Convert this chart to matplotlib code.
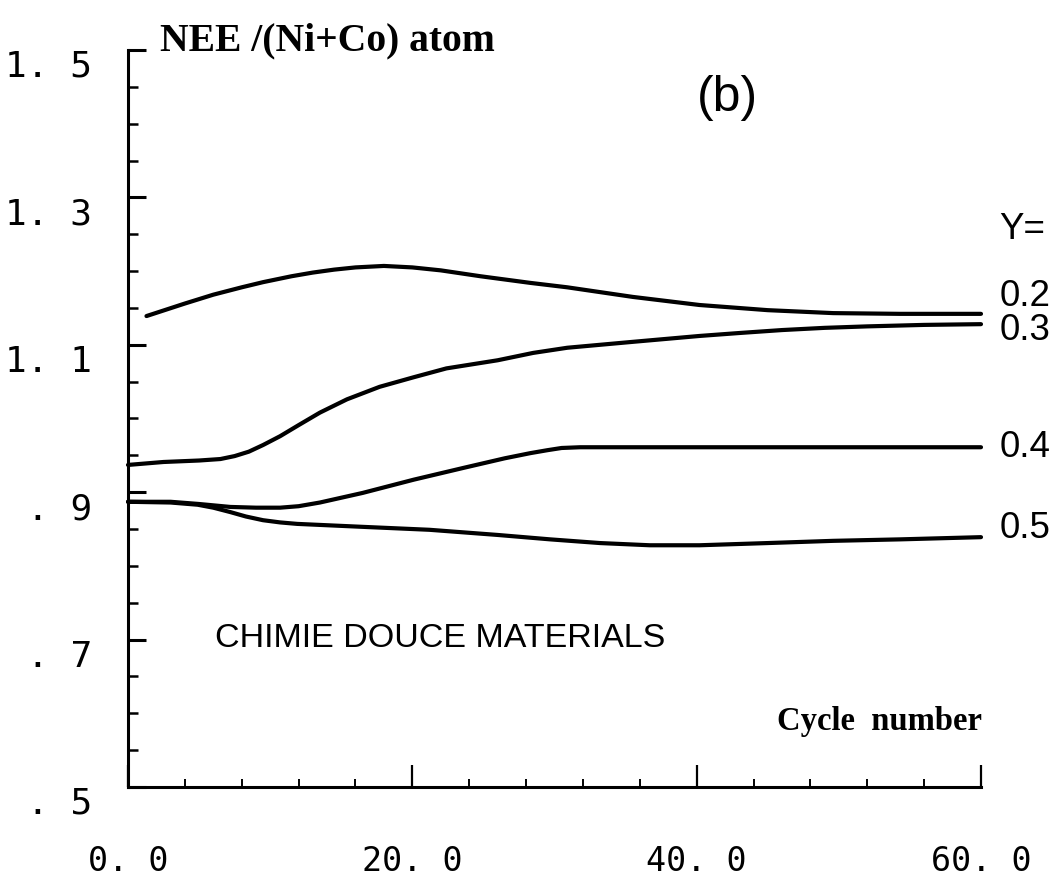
import matplotlib
matplotlib.use("Agg")
import matplotlib.pyplot as plt
from matplotlib.ticker import FixedLocator, MultipleLocator

# NEE per (Ni+Co) atom versus cycle number for several Y compositions
cycles_y02 = [1.3, 4.0, 6.0, 8.0, 9.5, 11.5, 13.0, 14.5, 16.0, 18.0, 20.0, 22.0,
              24.8, 28.3, 30.9, 35.5, 40.2, 45.0, 49.6, 54.3, 60.0]
nee_y02 = [1.139, 1.156, 1.168, 1.178, 1.185, 1.193, 1.198, 1.202, 1.205, 1.207,
           1.205, 1.201, 1.193, 1.184, 1.178, 1.165, 1.154, 1.147, 1.143, 1.142,
           1.142]

cycles_y03 = [0.0, 2.5, 5.0, 6.5, 7.5, 8.5, 9.5, 10.7, 12.0, 13.5, 15.4, 17.7,
              20.1, 22.4, 26.0, 28.5, 30.9, 35.5, 40.2, 43.0, 46.0, 49.0, 52.0,
              56.0, 60.0]
nee_y03 = [0.937, 0.941, 0.943, 0.945, 0.949, 0.955, 0.964, 0.976, 0.991, 1.008,
           1.026, 1.043, 1.056, 1.068, 1.079, 1.089, 1.096, 1.104, 1.112, 1.116,
           1.120, 1.123, 1.125, 1.127, 1.128]

cycles_y04 = [0.0, 3.0, 5.0, 7.2, 9.0, 10.7, 12.0, 13.5, 16.5, 20.1, 23.6, 26.5,
              28.3, 29.5, 30.5, 31.8, 40.2, 49.6, 60.0]
nee_y04 = [0.887, 0.887, 0.884, 0.880, 0.879, 0.879, 0.881, 0.886, 0.899, 0.917,
           0.933, 0.946, 0.953, 0.957, 0.960, 0.961, 0.961, 0.961, 0.961]

cycles_y05 = [0.0, 3.0, 4.9, 6.0, 7.2, 8.3, 9.5, 10.7, 11.9, 16.5, 21.2, 26.0,
              29.7, 33.2, 36.7, 40.2, 45.0, 49.6, 54.3, 60.0]
nee_y05 = [0.887, 0.886, 0.883, 0.879, 0.873, 0.867, 0.862, 0.859, 0.857, 0.853,
           0.849, 0.842, 0.836, 0.831, 0.828, 0.828, 0.831, 0.834, 0.836, 0.839]

series = [(cycles_y02, nee_y02), (cycles_y03, nee_y03),
          (cycles_y04, nee_y04), (cycles_y05, nee_y05)]

# end-of-curve composition labels: (text, y position)
y_labels = [("Y=", 1.256), ("0.2", 1.165), ("0.3", 1.120),
            ("0.4", 0.961), ("0.5", 0.851)]

x_ticks = [0, 20, 40, 60]
x_tick_labels = ["0. 0", "20. 0", "40. 0", "60. 0"]
y_ticks = [0.5, 0.7, 0.9, 1.1, 1.3, 1.5]
y_tick_labels = [". 5", ". 7", ". 9", "1. 1", "1. 3", "1. 5"]

W, H = 1058, 880
fig = plt.figure(figsize=(W / 100, H / 100), dpi=100)
ax = fig.add_axes([128 / W, 1 - 787 / H, (981 - 128) / W, (787 - 50) / H])

for xs, ys in series:
    ax.plot(xs, ys, color="black", lw=3.0, solid_capstyle="round",
            solid_joinstyle="round", clip_on=False)

ax.set_xlim(0, 60)
ax.set_ylim(0.5, 1.5)

for side in ("top", "right"):
    ax.spines[side].set_visible(False)
for side in ("left", "bottom"):
    ax.spines[side].set_linewidth(2.2)
    ax.spines[side].set_capstyle("projecting")

ax.xaxis.set_major_locator(FixedLocator(x_ticks))
ax.xaxis.set_minor_locator(MultipleLocator(4))
ax.yaxis.set_major_locator(FixedLocator(y_ticks))
ax.yaxis.set_minor_locator(MultipleLocator(0.05))
ax.set_xticklabels(x_tick_labels)
ax.set_yticklabels(y_tick_labels)

ax.tick_params(axis="both", which="both", direction="in", color="black",
               labelfontfamily="DejaVu Sans Mono")
ax.tick_params(axis="x", which="major", length=16, width=1.6, pad=42,
               labelsize=24)
ax.tick_params(axis="x", which="minor", length=6, width=1.4)
ax.tick_params(axis="y", which="major", length=13, width=2.2, pad=26,
               labelsize=26)
ax.tick_params(axis="y", which="minor", length=7, width=1.8)
for lbl in ax.get_yticklabels():
    lbl.set_verticalalignment("top")

# axis titles
fig.text(160 / W, 1 - 50 / H, "NEE /(Ni+Co) atom", family="Liberation Serif",
         weight="bold", fontsize=28.5, ha="left", va="baseline")
fig.text(982 / W, 1 - 730 / H, "Cycle  number", family="Liberation Serif",
         weight="bold", fontsize=23.5, ha="right", va="baseline")

# panel tag and annotation
fig.text(727 / W, 1 - 98 / H, "(b)", family="Liberation Sans", fontsize=36,
         ha="center", va="center")
fig.text(215 / W, 1 - 647 / H, "CHIMIE DOUCE MATERIALS",
         family="Liberation Sans", fontsize=24.5, ha="left", va="baseline")

for text, yv in y_labels:
    ax.text(61.3, yv, text, family="Liberation Sans", fontsize=26.5,
            ha="left", va="center", clip_on=False)

fig.savefig("out.png", dpi=100, facecolor="white")
